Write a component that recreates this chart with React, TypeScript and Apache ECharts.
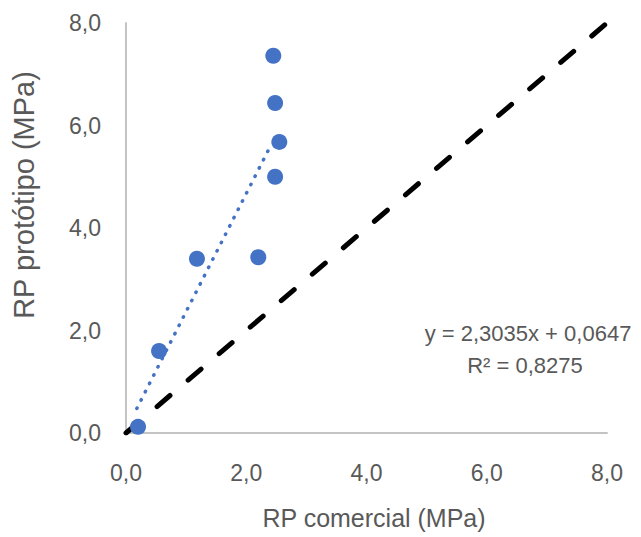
import React, { useEffect, useRef } from "react";
import * as echarts from "echarts";

const comercial = [0.2, 0.55, 1.18, 2.2, 2.45, 2.48, 2.55, 2.48];
const prototipo = [0.12, 1.6, 3.4, 3.43, 7.36, 6.44, 5.68, 5.0];
const trendSlope = 2.3035;
const trendIntercept = 0.0647;
const trendRange = [0.18, 2.41];
const identityLine = [0, 8];
const axisTicks = [0, 2, 4, 6, 8];
const equationText = "y = 2,3035x + 0,0647";
const r2Text = "R² = 0,8275";
const xTitle = "RP comercial (MPa)";
const yTitle = "RP protótipo (MPa)";

const FONT = "'Liberation Sans', Arial, sans-serif";
const TXT = "#595959";

export default function App() {
  const ref = useRef<HTMLDivElement>(null);
  useEffect(() => {
    if (!ref.current) return;
    const chart = echarts.init(ref.current, null, { renderer: "svg" });
    const fmt = (v: number) => v.toFixed(1).replace(".", ",");
    const scatterData = comercial.map((x, i) => [x, prototipo[i]]);
    const trendData = trendRange.map((x) => [x, trendSlope * x + trendIntercept]);
    const idData = identityLine.map((v) => [v, v]);
    chart.setOption({
      animation: false,
      backgroundColor: "#ffffff",
      grid: { left: 126, right: 34, top: 23, bottom: 104, containLabel: false },
      xAxis: {
        type: "value",
        min: axisTicks[0],
        max: axisTicks[axisTicks.length - 1],
        interval: 2,
        axisLine: { show: true, lineStyle: { color: "#c4c4c4", width: 2 } },
        axisTick: { show: false },
        splitLine: { show: false },
        axisLabel: { formatter: fmt, color: TXT, fontSize: 23, fontFamily: FONT, margin: 28 },
      },
      yAxis: {
        type: "value",
        min: axisTicks[0],
        max: axisTicks[axisTicks.length - 1],
        interval: 2,
        axisLine: { show: true, lineStyle: { color: "#c4c4c4", width: 2 } },
        axisTick: { show: false },
        splitLine: { show: false },
        axisLabel: { formatter: fmt, color: TXT, fontSize: 23, fontFamily: FONT, margin: 25 },
      },
      series: [
        {
          type: "line",
          data: idData,
          symbol: "none",
          silent: true,
          z: 1,
          lineStyle: { color: "#000000", width: 5, type: [17, 23.8], cap: "round" },
        },
        {
          type: "line",
          data: trendData,
          symbol: "none",
          silent: true,
          z: 2,
          lineStyle: { color: "#4472C4", width: 3.5, type: [0.5, 8.8], cap: "round" },
        },
        {
          type: "scatter",
          data: scatterData,
          symbol: "circle",
          symbolSize: 16,
          z: 3,
          itemStyle: { color: "#4472C4", opacity: 1 },
        },
      ],
      graphic: [
        {
          type: "text",
          x: 374,
          y: 518,
          style: { text: xTitle, fill: TXT, font: `25px ${FONT}`, align: "center", verticalAlign: "middle" },
        },
        {
          type: "text",
          x: 24,
          y: 195,
          rotation: Math.PI / 2,
          style: { text: yTitle, fill: TXT, font: `29px ${FONT}`, align: "center", verticalAlign: "middle" },
        },
        {
          type: "text",
          x: 528,
          y: 333,
          style: { text: equationText, fill: TXT, font: `22px ${FONT}`, align: "center", verticalAlign: "middle" },
        },
        {
          type: "text",
          x: 525,
          y: 365,
          style: { text: r2Text, fill: TXT, font: `22px ${FONT}`, align: "center", verticalAlign: "middle" },
        },
      ],
    });
    return () => chart.dispose();
  }, []);
  return <div ref={ref} style={{ width: 641, height: 537, position: "fixed", left: 0, top: 0 }} />;
}
